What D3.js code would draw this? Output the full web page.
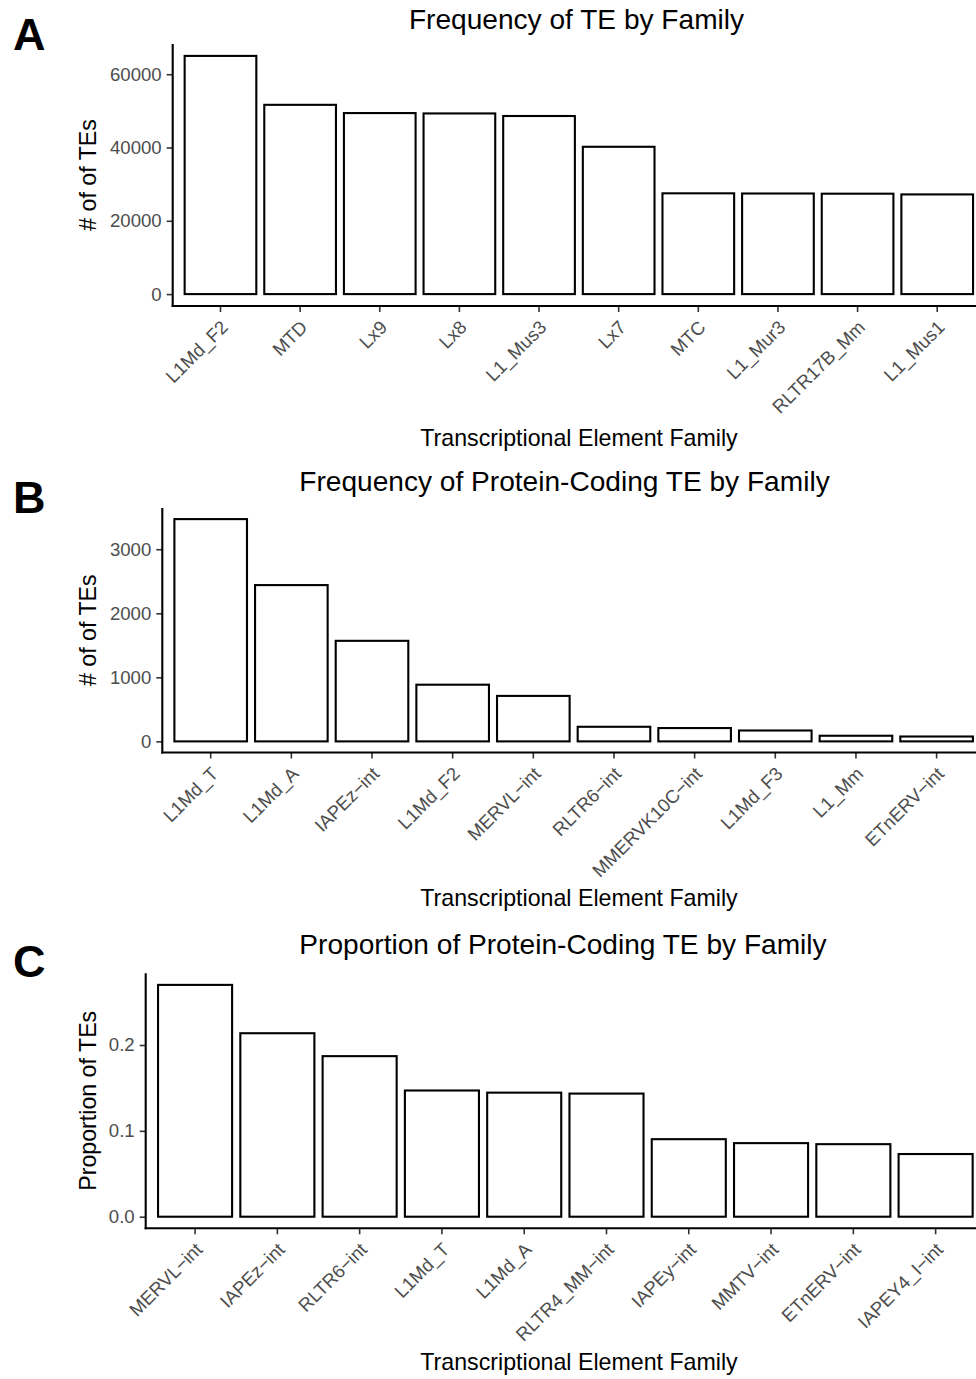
<!DOCTYPE html>
<html>
<head>
<meta charset="utf-8">
<script src="https://cdn.jsdelivr.net/npm/d3@7"></script>
<style>
  html, body { margin: 0; padding: 0; background: #fff; }
  svg { display: block; }
  text { font-family: "Liberation Sans", Arial, Helvetica, sans-serif; }
</style>
</head>
<body>
<svg id="chart" width="976" height="1379"></svg>
<script>
// ---------- data ----------
const familiesA = ["L1Md_F2", "MTD", "Lx9", "Lx8", "L1_Mus3", "Lx7", "MTC", "L1_Mur3", "RLTR17B_Mm", "L1_Mus1"];
const countsA   = [65000, 51650, 49400, 49300, 48600, 40200, 27500, 27450, 27400, 27200];
const ticksA    = [0, 20000, 40000, 60000];

const familiesB = ["L1Md_T", "L1Md_A", "IAPEz\u2212int", "L1Md_F2", "MERVL\u2212int", "RLTR6\u2212int", "MMERVK10C\u2212int", "L1Md_F3", "L1_Mm", "ETnERV\u2212int"];
const countsB   = [3470, 2440, 1570, 885, 710, 228, 208, 170, 88, 76];
const ticksB    = [0, 1000, 2000, 3000];

const familiesC = ["MERVL\u2212int", "IAPEz\u2212int", "RLTR6\u2212int", "L1Md_T", "L1Md_A", "RLTR4_MM\u2212int", "IAPEy\u2212int", "MMTV\u2212int", "ETnERV\u2212int", "IAPEY4_I\u2212int"];
const propsC    = [0.270, 0.2137, 0.187, 0.147, 0.1445, 0.1434, 0.0903, 0.0857, 0.0845, 0.0730];
const ticksC    = [0, 0.1, 0.2];

const titles = ["Frequency of TE by Family", "Frequency of Protein-Coding TE by Family", "Proportion of Protein-Coding TE by Family"];
const yTitles = ["# of of TEs", "# of of TEs", "Proportion of TEs"];
const xTitle = "Transcriptional Element Family";
const panelLetters = ["A", "B", "C"];

// ---------- layout ----------
const svg = d3.select("#chart");
svg.append("rect").attr("width", 976).attr("height", 1379).attr("fill", "#fff");

const panels = [
  { cats: familiesA, vals: countsA, ticks: ticksA, fmt: d3.format("d"),
    left: 172.7, right: 985, top: 44, bottom: 306,
    titleX: 576.5, titleY: 29, xTitleY: 446, letterY: 50 },
  { cats: familiesB, vals: countsB, ticks: ticksB, fmt: d3.format("d"),
    left: 162.3, right: 985, top: 508, bottom: 752.5,
    titleX: 564.5, titleY: 491, xTitleY: 906, letterY: 513 },
  { cats: familiesC, vals: propsC, ticks: ticksC, fmt: d3.format(".1f"),
    left: 145.7, right: 985, top: 973.3, bottom: 1228.3,
    titleX: 563, titleY: 954, xTitleY: 1370, letterY: 977 }
];

const TICK = 6, STROKE = 2.1;

panels.forEach((p, i) => {
  const g = svg.append("g");
  const M = d3.max(p.vals);
  const y = d3.scaleLinear().domain([-0.05 * M, 1.05 * M]).range([p.bottom, p.top]);
  const x = d3.scaleBand().domain(p.cats).range([p.left, p.right])
              .paddingInner(0.1).paddingOuter(0.15);

  // bars
  g.selectAll("rect.bar").data(p.cats).enter().append("rect")
    .attr("class", "bar")
    .attr("x", d => x(d))
    .attr("width", x.bandwidth())
    .attr("y", (d, j) => y(p.vals[j]))
    .attr("height", (d, j) => y(0) - y(p.vals[j]))
    .attr("fill", "#fff").attr("stroke", "#000").attr("stroke-width", STROKE);

  // y axis
  const yAxis = d3.axisLeft(y).tickValues(p.ticks).tickFormat(p.fmt)
                  .tickSizeInner(TICK).tickSizeOuter(0).tickPadding(5);
  const ya = g.append("g").attr("transform", `translate(${p.left},0)`).call(yAxis);
  ya.select(".domain").remove();
  ya.selectAll(".tick line").attr("stroke", "#333").attr("stroke-width", 1.6);
  ya.selectAll(".tick text").attr("font-size", 18.6).attr("fill", "#4d4d4d")
    .attr("font-family", "Liberation Sans, Arial, sans-serif");
  g.append("line").attr("x1", p.left).attr("x2", p.left)
    .attr("y1", p.top).attr("y2", p.bottom + STROKE / 2)
    .attr("stroke", "#000").attr("stroke-width", STROKE);

  // x axis
  const xAxis = d3.axisBottom(x).tickSizeInner(TICK).tickSizeOuter(0).tickFormat("");
  const xa = g.append("g").attr("transform", `translate(0,${p.bottom})`).call(xAxis);
  xa.select(".domain").remove();
  xa.selectAll(".tick line").attr("stroke", "#333").attr("stroke-width", 1.6);
  g.append("line").attr("x1", p.left - STROKE / 2).attr("x2", 990)
    .attr("y1", p.bottom).attr("y2", p.bottom)
    .attr("stroke", "#000").attr("stroke-width", STROKE);

  // rotated x tick labels
  g.selectAll("text.xlab").data(p.cats).enter().append("text")
    .attr("class", "xlab")
    .attr("transform", d => `translate(${x(d) + x.bandwidth() / 2 + 8.5},${p.bottom + 22.5}) rotate(-45)`)
    .attr("text-anchor", "end")
    .attr("font-size", 18.6).attr("fill", "#4d4d4d")
    .text(d => d);

  // titles
  svg.append("text").attr("x", p.titleX).attr("y", p.titleY)
    .attr("text-anchor", "middle").attr("font-size", 28.1).attr("fill", "#000")
    .text(titles[i]);
  svg.append("text").attr("x", 579).attr("y", p.xTitleY)
    .attr("text-anchor", "middle").attr("font-size", 23.2).attr("fill", "#000")
    .text(xTitle);
  svg.append("text")
    .attr("transform", `translate(96,${(p.top + p.bottom) / 2}) rotate(-90)`)
    .attr("text-anchor", "middle").attr("font-size", 23.2).attr("fill", "#000")
    .text(yTitles[i]);
  svg.append("text").attr("x", 13).attr("y", p.letterY)
    .attr("font-size", 45).attr("font-weight", "bold").attr("fill", "#000")
    .text(panelLetters[i]);
});
</script>
</body>
</html>
